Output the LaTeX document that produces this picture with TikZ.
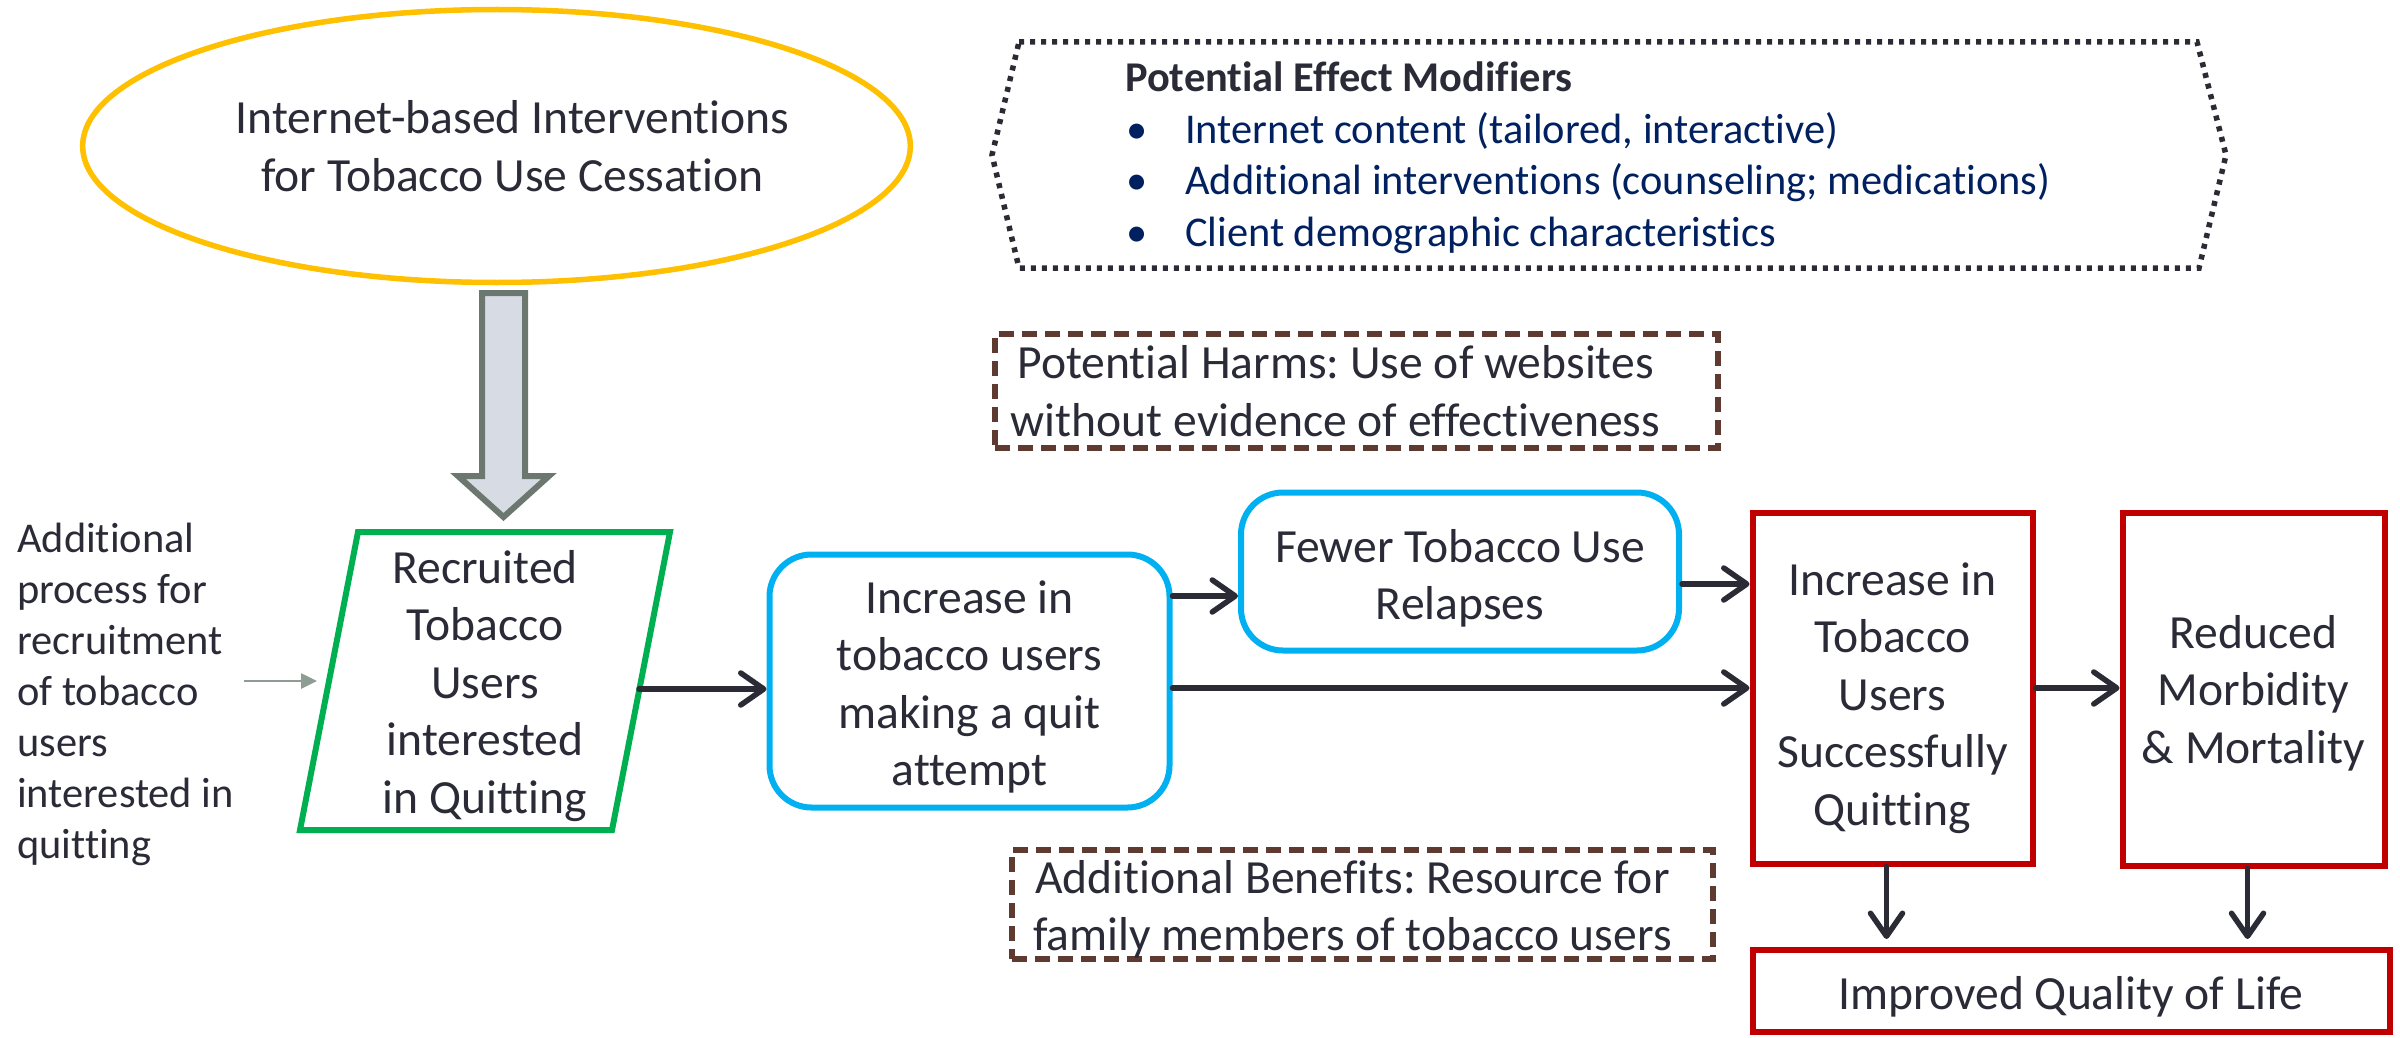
\documentclass[tikz,border=0pt]{standalone}
\usepackage{fontspec}
\setmainfont{Carlito}[Ligatures=NoCommon]
\usetikzlibrary{arrows.meta,shapes.geometric}
\definecolor{txt}{HTML}{2B2B38}
\definecolor{navy}{HTML}{002060}
\definecolor{yel}{HTML}{FFC000}
\definecolor{grn}{HTML}{00B050}
\definecolor{cyn}{HTML}{00B0F0}
\definecolor{redc}{HTML}{C00000}
\definecolor{brn}{HTML}{5E3A31}
\definecolor{dotc}{HTML}{2B2B36}
\definecolor{arrc}{HTML}{2B2B36}
\definecolor{bgray}{HTML}{6C786F}
\definecolor{bfill}{HTML}{D7DCE4}
\definecolor{sgray}{HTML}{8E9D93}
\tikzset{
  bigfont/.style={font=\fontsize{47.6}{57.5}\selectfont},
  smallfont/.style={font=\fontsize{42.4}{51}\selectfont},
  arr/.style={draw=arrc, line width=5.5pt, line cap=round, -{Straight Barb[length=23pt,width=32pt,round]}},
  grayarr/.style={draw=sgray, line width=2.6pt, -{Triangle[length=16pt,width=15pt]}},
  redbox/.style={draw=redc, line width=6pt, inner sep=0pt},
  bluebox/.style={draw=cyn, line width=6pt, rounded corners=42pt, inner sep=0pt},
  dashbox/.style={draw=brn, line width=5.5pt, dash pattern=on 15pt off 8pt, align=center, inner sep=0pt, text=txt, bigfont},
  boxtext/.style={inner sep=0pt, text=txt, align=center, bigfont},
  plaintext/.style={inner sep=0pt, text=txt}
}
\begin{document}
\frenchspacing
\begin{tikzpicture}[x=1pt,y=-1pt]
\fill[white] (0,0) rectangle (2400,1038);
\useasboundingbox (0,0) rectangle (2400,1038);

% ellipse
\node[ellipse, draw=yel, line width=5.5pt, minimum width=816pt, minimum height=273pt, inner sep=0pt, align=center, text=txt, bigfont] (intv) at (496.5,146) {\hspace*{32pt}Internet-based Interventions\\\hspace*{32pt}for Tobacco Use Cessation};

% block arrow
\draw[line width=6pt, draw=bgray, fill=bfill, line join=miter]
  (482,293) -- (525,293) -- (525,476) -- (549,476) -- (503.5,517) -- (458,476) -- (482,476) -- cycle;

% parallelogram
\draw[draw=grn, line width=6pt, line join=miter] (358,532) -- (670,532) -- (612,830) -- (300,830) -- cycle;
\node[boxtext] (para) at (485,686) {Recruited\\Tobacco\\Users\\interested\\in Quitting};
\coordinate (pR) at (639,689);
\coordinate (pL) at (329,681);

% side text
\node[plaintext, smallfont, align=left, anchor=base west] (side) at (17,858) {Additional\\process for\\recruitment\\of tobacco\\users\\interested in\\quitting};
\coordinate (g1) at (244,681);
\draw[grayarr, shorten >=12pt] (g1) -- (pL);

% modifiers
\draw[draw=dotc, line width=5.5pt, dash pattern=on 5pt off 6pt]
  (1019,42) -- (2197,42) -- (2226,155) -- (2199,268) -- (1019,268) -- (992,155) -- cycle;
\node[plaintext, smallfont, anchor=base west] (mt) at (1125,92) {\bfseries Potential Effect Modifiers};
\node[plaintext, smallfont, anchor=base west, text=navy] (m1) at (1126,143) {\makebox[59pt][l]{\textbullet}Internet content (tailored, interactive)};
\node[plaintext, smallfont, anchor=base west, text=navy] (m2) at (1126,194) {\makebox[59pt][l]{\textbullet}Additional interventions (counseling; medications)};
\node[plaintext, smallfont, anchor=base west, text=navy] (m3) at (1126,246) {\makebox[59pt][l]{\textbullet}Client demographic characteristics};

% harms / benefits
\node[dashbox, minimum width=723pt, minimum height=114pt] (harms) at (1356.5,391) {Potential Harms: Use of websites\hspace*{42pt}\\without evidence of effectiveness\hspace*{42pt}};
\node[dashbox, minimum width=701pt, minimum height=109pt] (benef) at (1362.5,904.5) {};
\node[boxtext] (beneftext) at ([yshift=-5pt]benef.center) {Additional Benefits: Resource for\hspace*{20pt}\\family members of tobacco users\hspace*{20pt}};

% blue boxes
\node[bluebox, minimum width=400pt, minimum height=253pt] (quit) at (969.5,681) {};
\node[boxtext] (quittext) at ([yshift=-6pt]quit.center) {Increase in\\tobacco users\\making a quit\\attempt};
\node[bluebox, minimum width=438pt, minimum height=158pt] (relapse) at (1460,571.5) {};
\node[boxtext] (relapsetext) at ([yshift=-7pt]relapse.center) {Fewer Tobacco Use\\Relapses};

% red boxes
\node[redbox, minimum width=280pt, minimum height=351pt] (success) at (1892.5,688) {};
\node[boxtext] (successtext) at ([yshift=-10pt]success.center) {Increase in\\Tobacco\\Users\\Successfully\\Quitting};
\node[redbox, minimum width=262pt, minimum height=353pt] (reduced) at (2253.5,689) {};
\node[boxtext] (reducedtext) at ([yshift=-4pt]reduced.center) {Reduced\\Morbidity\\\& Mortality};
\node[redbox, minimum width=637pt, minimum height=82pt] (qol) at (2071,991) {};
\node[boxtext] (qoltext) at ([yshift=-6pt]qol.center) {Improved Quality of Life};

% connectors
\draw[arr] (pR) -- (pR -| quit.west);
\draw[arr] ([yshift=-24.5pt]relapse.west -| quit.east) -- ([yshift=-24.5pt]relapse.west);
\draw[arr] (quit.east |- success.west) -- (success.west);
\draw[arr] ([yshift=-12.5pt]relapse.east) -- ([yshift=-12.5pt]relapse.east -| success.west);
\draw[arr] (success.east) -- (success.east -| reduced.west);
\draw[arr, shorten >=8pt] ([xshift=-6pt]success.south) -- ([xshift=-6pt]success.south |- qol.north);
\draw[arr, shorten >=8pt] ([xshift=-6pt]reduced.south) -- ([xshift=-6pt]reduced.south |- qol.north);
\end{tikzpicture}
\end{document}
